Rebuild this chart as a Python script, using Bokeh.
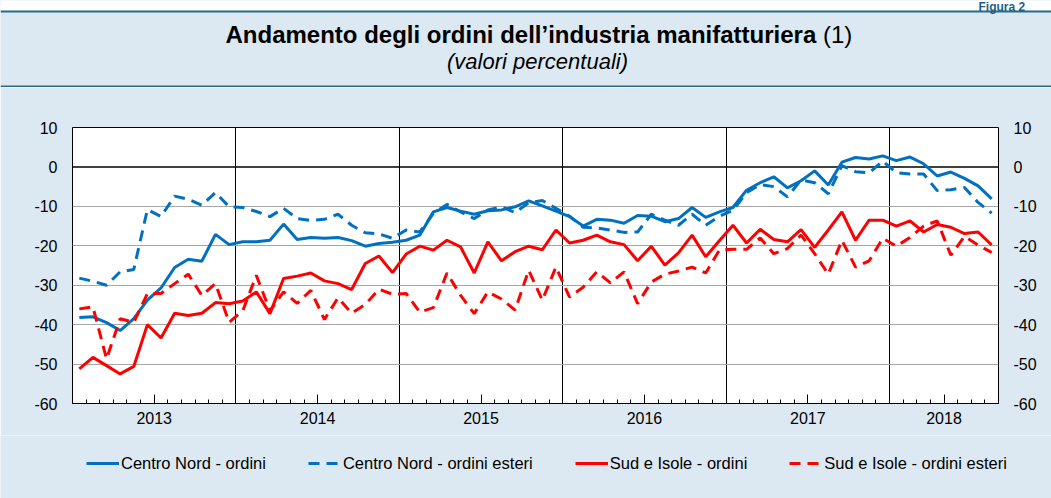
from bokeh.plotting import figure
from bokeh.models import (Range1d, LinearAxis, FixedTicker, Span, Label, Legend,
                          LegendItem, ColumnDataSource, BoxAnnotation)
from bokeh.layouts import column, row
from bokeh.embed import file_html
from bokeh.resources import INLINE

# ---------------- data (monthly, Jan 2013 - Aug 2018) ----------------
months = [f"{y}-{m:02d}" for y in range(2013, 2019) for m in range(1, 13)][:68]

centro_nord_ordini = [
    -38.2, -38.0, -39.5, -41.5, -38.5, -33.8, -30.7, -25.5, -23.4, -23.9, -17.1, -19.7,
    -19.0, -19.0, -18.6, -14.5, -18.4, -17.9, -18.1, -17.9, -18.7, -20.1, -19.4, -19.1,
    -18.6, -17.3, -11.4, -10.3, -11.2, -12.0, -11.1, -10.9, -10.1, -8.6, -9.9, -11.2,
    -12.6, -15.0, -13.3, -13.5, -14.3, -12.3, -12.5, -13.9, -13.1, -10.3, -12.8, -11.4,
    -10.3, -5.9, -4.0, -2.5, -5.3, -3.5, -1.0, -4.6, 1.2, 2.4, 2.0, 2.8,
    1.6, 2.5, 0.8, -2.3, -1.3, -2.9, -4.8, -8.1,
]
centro_nord_esteri = [
    -28.2, -29.0, -30.0, -26.6, -26.0, -10.8, -12.6, -7.4, -8.2, -9.7, -6.5, -10.1,
    -10.3, -11.3, -12.6, -10.5, -13.1, -13.6, -13.3, -12.0, -14.8, -16.7, -17.0, -18.1,
    -16.0, -16.5, -11.8, -9.5, -11.4, -13.1, -10.9, -10.1, -11.6, -9.1, -8.5, -10.5,
    -12.5, -15.3, -15.5, -16.0, -16.6, -16.5, -12.0, -13.5, -14.8, -12.0, -14.8, -12.5,
    -11.0, -6.5, -4.5, -5.0, -7.6, -3.3, -4.0, -6.8, 0.3, -1.2, -1.5, 1.5,
    -1.5, -1.8, -1.8, -6.0, -5.8, -5.2, -9.0, -11.7,
]
sud_isole_ordini = [
    -51.2, -48.3, -50.4, -52.5, -50.6, -40.0, -43.4, -37.1, -37.7, -37.1, -34.4, -34.7,
    -34.0, -31.7, -37.2, -28.3, -27.7, -26.9, -28.9, -29.6, -31.1, -24.5, -22.6, -26.8,
    -22.1, -20.1, -21.1, -18.6, -20.3, -26.9, -19.0, -23.8, -21.5, -20.1, -21.0, -16.0,
    -19.3, -18.6, -17.3, -19.0, -19.7, -23.8, -20.1, -24.9, -21.8, -17.3, -22.8, -18.7,
    -14.8, -19.3, -15.8, -18.4, -19.0, -15.9, -20.4, -16.0, -11.4, -18.6, -13.5, -13.5,
    -15.0, -13.7, -16.5, -14.6, -15.3, -16.9, -16.5, -19.8,
]
sud_isole_esteri = [
    -36.0, -35.5, -48.7, -38.5, -39.4, -32.1, -32.1, -29.6, -27.2, -32.6, -29.6, -39.4,
    -36.5, -27.5, -36.5, -31.7, -34.6, -31.3, -38.7, -33.2, -37.1, -34.9, -31.0, -32.3,
    -32.1, -36.8, -35.7, -26.9, -32.6, -37.2, -31.7, -33.5, -36.3, -26.2, -33.8, -25.4,
    -33.0, -30.5, -26.6, -29.4, -26.6, -34.7, -29.2, -27.2, -26.4, -25.4, -26.9, -21.1,
    -20.9, -20.9, -18.0, -22.0, -20.7, -17.3, -22.0, -27.2, -18.6, -25.4, -23.8, -18.1,
    -20.1, -17.9, -15.0, -13.7, -22.4, -17.6, -19.8, -21.7,
]

year_labels = ["2013", "2014", "2015", "2016", "2017", "2018"]
year_label_pos = [6, 18, 30, 42, 54, 64]       # month index where each label sits
year_bounds = [12, 24, 36, 48, 60]
y_ticks = [-60, -50, -40, -30, -20, -10, 0, 10]

series_names = ["Centro Nord - ordini", "Centro Nord - ordini esteri",
                "Sud e Isole - ordini", "Sud e Isole - ordini esteri"]

title_text = "Andamento degli ordini dell\u2019industria manifatturiera"
title_note = "(1)"
subtitle_text = "(valori percentuali)"
figure_tag = "Figura 2"

# ---------------- styling ----------------
BG = "#dce9f2"
RULE = "#2a6a8a"
BLUE = "#0070c0"
RED = "#ff0000"
FONT = "Liberation Sans"
W = 1051
FL, FR = 72, 998   # frame left/right (page px)
HH = 87            # header height (page px)
LH = 63            # legend strip height (page px)


def bare(height, xr, yr):
    f = figure(width=W, height=height, x_range=xr, y_range=yr,
               x_axis_type=None, y_axis_type=None, toolbar_location=None,
               output_backend="svg", min_border=0, title_location=None)
    f.outline_line_color = None
    f.background_fill_color = BG
    f.border_fill_color = BG
    f.grid.visible = False
    return f


# ---------------- header (its own frame covers the whole header canvas) ----------------
hdr = bare(HH, Range1d(0, W), Range1d(HH, 0))
hdr.add_layout(BoxAnnotation(left=0, right=W, top=0, bottom=10, fill_color="white",
                             fill_alpha=1, line_color=None, level="underlay"))
for y0 in (10, 85):
    hdr.add_layout(BoxAnnotation(left=0, right=W, top=y0, bottom=y0 + 2, fill_color=RULE,
                                 fill_alpha=1, line_color=None, level="underlay"))
hdr.add_layout(Label(x=978, y=6, text=figure_tag, text_font=FONT, text_font_style="bold",
                     text_font_size="12px", text_color="#1f5f86",
                     text_align="left", text_baseline="alphabetic"))
hdr.add_layout(Label(x=225, y=33.7, text=title_text, text_font=FONT, text_font_style="bold",
                     text_font_size="24px", text_color="black",
                     text_align="left", text_baseline="alphabetic"))
hdr.add_layout(Label(x=822.5, y=33.7, text=title_note, text_font=FONT, text_font_size="24px",
                     text_color="black", text_align="left", text_baseline="alphabetic"))
hdr.add_layout(Label(x=537, y=61, text=subtitle_text, text_font=FONT,
                     text_font_style="italic", text_font_size="22px", text_color="black",
                     text_align="center", text_baseline="alphabetic"))

# ---------------- main chart ----------------
src = ColumnDataSource(dict(
    x=[i + 0.5 for i in range(len(months))],
    month=months,
    cno=centro_nord_ordini, cne=centro_nord_esteri,
    sio=sud_isole_ordini, sie=sud_isole_esteri,
))

p = figure(frame_width=FR - FL, frame_height=276, x_range=Range1d(0, 68),
           y_range=Range1d(-60, 10), toolbar_location=None, output_backend="svg",
           min_border_left=FL, min_border_right=W - FR, min_border_top=127 - HH,
           min_border_bottom=498 - HH - (127 - HH) - 276 - LH, title_location=None)
p.background_fill_color = "white"
p.border_fill_color = BG
p.outline_line_color = "black"
p.outline_line_width = 1

xa = p.xaxis[0]
xa.ticker = FixedTicker(ticks=year_label_pos, minor_ticks=list(range(0, 69)))
xa.major_label_overrides = {pos: lab for pos, lab in zip(year_label_pos, year_labels)}
xa.major_tick_in = 9
xa.major_tick_out = 0
xa.minor_tick_in = 4
xa.minor_tick_out = 0
xa.axis_line_color = "black"
xa.major_tick_line_color = "black"
xa.minor_tick_line_color = "black"
xa.major_label_standoff = 8
xa.major_label_text_font = FONT
xa.major_label_text_font_size = "16px"
xa.major_label_text_color = "black"


def style_y(ax):
    ax.ticker = FixedTicker(ticks=y_ticks)
    ax.major_label_overrides = {v: str(v) for v in y_ticks}
    ax.major_tick_in = 0
    ax.major_tick_out = 0
    ax.minor_tick_line_color = None
    ax.axis_line_color = None
    ax.major_label_standoff = 15
    ax.major_label_text_font = FONT
    ax.major_label_text_font_size = "16px"
    ax.major_label_text_color = "black"


style_y(p.yaxis[0])
ra = LinearAxis()
style_y(ra)
p.add_layout(ra, "right")

p.xgrid.ticker = FixedTicker(ticks=year_bounds)
p.xgrid.grid_line_color = "black"
p.xgrid.grid_line_width = 1
p.ygrid.ticker = FixedTicker(ticks=[-50, -40, -30, -20, -10])
p.ygrid.grid_line_color = "#a6a6a6"
p.ygrid.grid_line_width = 1
p.add_layout(Span(location=0, dimension="width", line_color="black", line_width=1.5,
                  level="underlay"))

styles = [dict(line_color=BLUE), dict(line_color=BLUE, line_dash="11 7"),
          dict(line_color=RED), dict(line_color=RED, line_dash="11 7")]
cols = ["cno", "cne", "sio", "sie"]
for c, st in zip(cols, styles):
    p.line("x", c, source=src, line_width=3, **st)

# ---------------- legend strip (full-width frame) ----------------
lg = bare(LH, Range1d(0, 68), Range1d(100, 101))
lg_renderers = [lg.line("x", c, source=src, line_width=3, **st) for c, st in zip(cols, styles)]

legend = Legend(
    items=[LegendItem(label=n, renderers=[r]) for n, r in zip(series_names, lg_renderers)],
    orientation="horizontal", location=(86, 25),
    glyph_width=33, glyph_height=20, label_height=20, label_standoff=2, spacing=42,
    padding=0, margin=0, border_line_color=None, background_fill_alpha=0,
    label_text_font=FONT, label_text_font_size="16.5px", label_text_color="black",
)
lg.add_layout(legend)

layout = column(row(hdr), p, row(lg), spacing=0)
open("out.html", "w").write(file_html(layout, INLINE))
